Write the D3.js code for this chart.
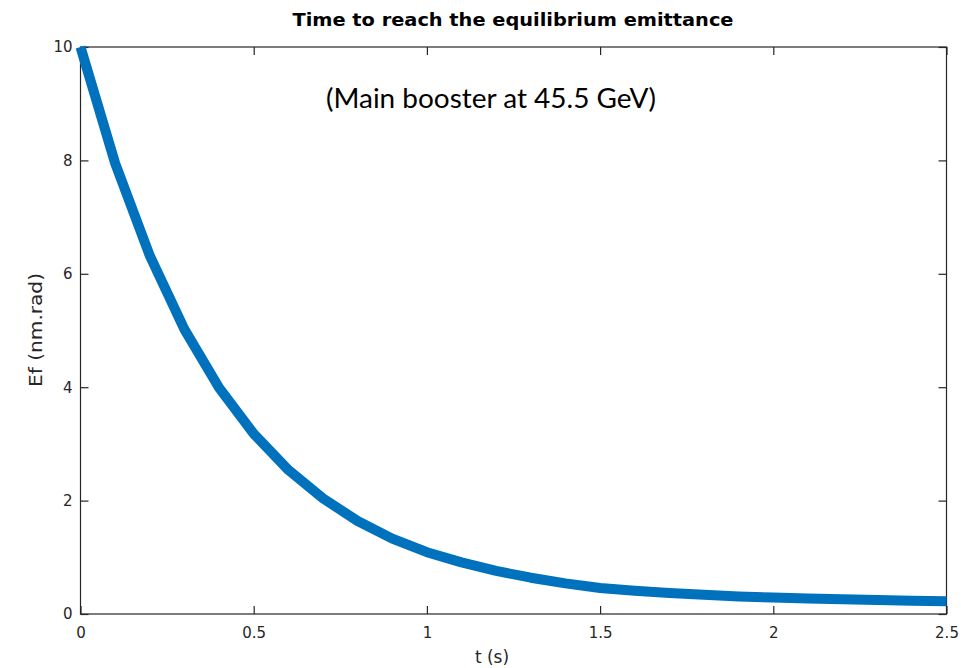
<!DOCTYPE html>
<html><head><meta charset="utf-8">
<script src="https://cdn.jsdelivr.net/npm/d3@7"></script>
<style>body{margin:0;background:#fff;} svg{display:block;}</style>
</head><body>
<svg id="c" width="961" height="668"></svg>
<script>
const timeS = [0,0.1,0.2,0.3,0.4,0.5,0.6,0.7,0.8,0.9,1.0,1.1,1.2,1.3,1.4,1.5,1.6,1.7,1.8,1.9,2.0,2.1,2.2,2.3,2.4,2.5];
const emittance = [10,7.95,6.32,5.02,3.99,3.18,2.54,2.04,1.64,1.33,1.09,0.91,0.76,0.64,0.54,0.46,0.41,0.37,0.34,0.31,0.29,0.275,0.26,0.245,0.235,0.225];
const xTicks = [0,0.5,1,1.5,2,2.5];
const xTickLabels = ["0","0.5","1","1.5","2","2.5"];
const yTicks = [0,2,4,6,8,10];
const yTickLabels = ["0","2","4","6","8","10"];
const titleText = "Time to reach the equilibrium emittance";
const noteText = "(Main booster at 45.5 GeV)";
const xLabel = "t (s)";
const yLabel = "Ef (nm.rad)";

const svg = d3.select("#c");
const L = 80.5, R = 946.5, T = 47, B = 614;
const x = d3.scaleLinear().domain([0,2.5]).range([L,R]);
const y = d3.scaleLinear().domain([0,10]).range([B,T]);
const axisColor = "#262626";
const tickFont = "DejaVu Sans, Verdana, sans-serif";

// box
svg.append("rect").attr("x",L).attr("y",T).attr("width",R-L).attr("height",B-T)
  .attr("fill","none").attr("stroke",axisColor).attr("stroke-width",1.2);

const fmtX = (d,i)=>xTickLabels[i];
const fmtY = (d,i)=>yTickLabels[i];

const gx = svg.append("g").attr("transform",`translate(0,${B})`)
  .call(d3.axisBottom(x).tickValues(xTicks).tickFormat(fmtX).tickSizeInner(-8).tickSizeOuter(0).tickPadding(13));
const gxt = svg.append("g").attr("transform",`translate(0,${T})`)
  .call(d3.axisTop(x).tickValues(xTicks).tickFormat("").tickSizeInner(-8).tickSizeOuter(0));
const gy = svg.append("g").attr("transform",`translate(${L},0)`)
  .call(d3.axisLeft(y).tickValues(yTicks).tickFormat(fmtY).tickSizeInner(-8).tickSizeOuter(0).tickPadding(8));
const gyr = svg.append("g").attr("transform",`translate(${R},0)`)
  .call(d3.axisRight(y).tickValues(yTicks).tickFormat("").tickSizeInner(-8).tickSizeOuter(0));
[gx,gxt,gy,gyr].forEach(g=>{
  g.select(".domain").remove();
  g.selectAll("line").attr("stroke",axisColor).attr("stroke-width",1.2);
  g.selectAll("text").attr("fill",axisColor).style("font-family",tickFont).style("font-size","15px");
});

// line
const line = d3.line().x((d,i)=>x(timeS[i])).y(d=>y(d));
svg.append("path").datum(emittance).attr("d",line)
  .attr("fill","none").attr("stroke","#0072BD").attr("stroke-width",10)
  .attr("stroke-linejoin","round").attr("stroke-linecap","butt");

// title
svg.append("text").attr("x",(L+R)/2 - 0.5).attr("y",26).attr("text-anchor","middle")
  .style("font-family",tickFont).style("font-weight","bold").style("font-size","17px")
  .attr("fill","#000").attr("textLength",441).attr("lengthAdjust","spacingAndGlyphs").text(titleText);

// annotation
svg.append("text").attr("x",491).attr("y",108).attr("text-anchor","middle")
  .style("font-family","Lato, Carlito, sans-serif").style("font-size","26px")
  .attr("fill","#000").attr("textLength",330).attr("lengthAdjust","spacingAndGlyphs").text(noteText);

// axis labels
svg.append("text").attr("x",492).attr("y",663).attr("text-anchor","middle")
  .style("font-family",tickFont).style("font-size","17px").attr("fill",axisColor).text(xLabel);
svg.append("text").attr("transform","translate(42,330) rotate(-90)").attr("text-anchor","middle")
  .style("font-family",tickFont).style("font-size","17px").attr("fill",axisColor)
  .attr("textLength",114).attr("lengthAdjust","spacingAndGlyphs").text(yLabel);
</script>
</body></html>
